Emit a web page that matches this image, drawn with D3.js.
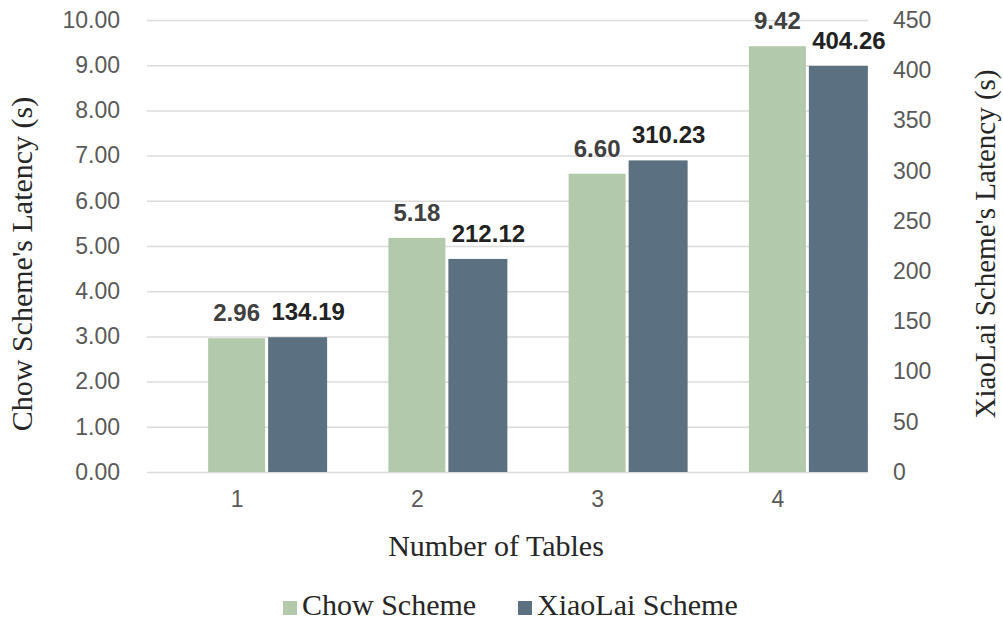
<!DOCTYPE html>
<html>
<head>
<meta charset="utf-8">
<script src="https://cdn.jsdelivr.net/npm/d3@7"></script>
<style>
  body { margin: 0; background: #fff; }
  .tick text { font-family: "Liberation Sans", Arial, sans-serif; font-size: 23px; fill: #595959; }
  .serif { font-family: "Liberation Serif", "Times New Roman", serif; fill: #262626; }
</style>
</head>
<body>
<div id="chart"></div>
<script>
// Data
var categories = ["1", "2", "3", "4"];
var chowValues = [2.96, 5.18, 6.60, 9.42];
var xiaolaiValues = [134.19, 212.12, 310.23, 404.26];
var leftTicks = [0, 1, 2, 3, 4, 5, 6, 7, 8, 9, 10];
var rightTicks = [0, 50, 100, 150, 200, 250, 300, 350, 400, 450];
var seriesNames = ["Chow Scheme", "XiaoLai Scheme"];

var svgWidth = 1003;
var svgHeight = 621;

var plot = { left: 147, right: 868, top: 20, bottom: 472 };
var plotWidth = plot.right - plot.left;

var chowColor = "#b3c9ab";
var xiaoColor = "#5b7181";

var svg = d3.select("#chart")
  .append("svg")
  .attr("width", svgWidth)
  .attr("height", svgHeight);

// Scales
var xScale = d3.scaleBand()
  .domain(categories)
  .range([plot.left, plot.right])
  .padding(0);

var yLeft = d3.scaleLinear()
  .domain([0, 10])
  .range([plot.bottom, plot.top]);

var yRight = d3.scaleLinear()
  .domain([0, 450])
  .range([plot.bottom, plot.top]);

// Gridlines
var grid = svg.append("g")
  .attr("transform", `translate(${plot.left}, 0)`)
  .call(d3.axisLeft(yLeft).tickValues(leftTicks).tickSize(-plotWidth).tickFormat(""));
grid.select(".domain").remove();
grid.selectAll("line").attr("stroke", "#dcdcdc").attr("stroke-width", 1.5);

// Left axis
var leftAxis = svg.append("g")
  .attr("transform", `translate(${plot.left - 24}, 0)`)
  .call(d3.axisLeft(yLeft).tickValues(leftTicks).tickSize(0).tickFormat(d3.format(".2f")));
leftAxis.select(".domain").remove();

// Right axis
var rightAxis = svg.append("g")
  .attr("transform", `translate(${plot.right + 22}, 0)`)
  .call(d3.axisRight(yRight).tickValues(rightTicks).tickSize(0));
rightAxis.select(".domain").remove();

// Bottom axis
var bottomAxis = svg.append("g")
  .attr("transform", `translate(0, ${plot.bottom + 16})`)
  .call(d3.axisBottom(xScale).tickSize(0));
bottomAxis.select(".domain").remove();

// Bars
var half = 29;
var bars = svg.append("g");

bars.selectAll(".chow")
  .data(categories)
  .enter().append("rect")
  .attr("class", "chow")
  .attr("x", (d) => xScale(d) + xScale.bandwidth() / 2 - half)
  .attr("y", (d, i) => yLeft(chowValues[i]))
  .attr("width", 57)
  .attr("height", (d, i) => yLeft(0) - yLeft(chowValues[i]))
  .attr("fill", chowColor);

bars.selectAll(".xiao")
  .data(categories)
  .enter().append("rect")
  .attr("class", "xiao")
  .attr("x", (d) => xScale(d) + xScale.bandwidth() / 2 + half + 2)
  .attr("y", (d, i) => yRight(xiaolaiValues[i]))
  .attr("width", 59)
  .attr("height", (d, i) => yRight(0) - yRight(xiaolaiValues[i]))
  .attr("fill", xiaoColor);

// Value labels
var labels = svg.append("g")
  .attr("font-family", "Liberation Sans, Arial, sans-serif")
  .attr("font-weight", "bold")
  .attr("font-size", "24px")
  .attr("text-anchor", "middle");

labels.selectAll(".chowLabel")
  .data(categories)
  .enter().append("text")
  .attr("x", (d) => xScale(d) + xScale.bandwidth() / 2 - 0.5)
  .attr("y", (d, i) => yLeft(chowValues[i]) - 17)
  .attr("fill", "#404040")
  .text((d, i) => chowValues[i].toFixed(2));

labels.selectAll(".xiaoLabel")
  .data(categories)
  .enter().append("text")
  .attr("x", (d) => xScale(d) + xScale.bandwidth() / 2 + half + 2 + 30 + 10)
  .attr("y", (d, i) => yRight(xiaolaiValues[i]) - 17)
  .attr("fill", "#222")
  .text((d, i) => xiaolaiValues[i].toFixed(2));

// Axis titles
svg.append("text")
  .attr("class", "serif")
  .attr("transform", "translate(32, 264) rotate(-90)")
  .attr("text-anchor", "middle")
  .attr("font-size", "30px")
  .text("Chow Scheme's Latency (s)");

svg.append("text")
  .attr("class", "serif")
  .attr("transform", "translate(995, 244) rotate(-90)")
  .attr("text-anchor", "middle")
  .attr("font-size", "29px")
  .text("XiaoLai Scheme's Latency (s)");

svg.append("text")
  .attr("class", "serif")
  .attr("x", 496)
  .attr("y", 556)
  .attr("text-anchor", "middle")
  .attr("font-size", "30px")
  .text("Number of Tables");

// Legend
var legendX = [283, 518];
var legend = svg.append("g");
seriesNames.forEach(function(name, i) {
  legend.append("rect")
    .attr("x", legendX[i])
    .attr("y", 601)
    .attr("width", 14)
    .attr("height", 14)
    .attr("fill", i === 0 ? chowColor : xiaoColor);
  legend.append("text")
    .attr("class", "serif")
    .attr("x", legendX[i] + 19)
    .attr("y", 615)
    .attr("font-size", "30px")
    .text(name);
});
</script>
</body>
</html>
